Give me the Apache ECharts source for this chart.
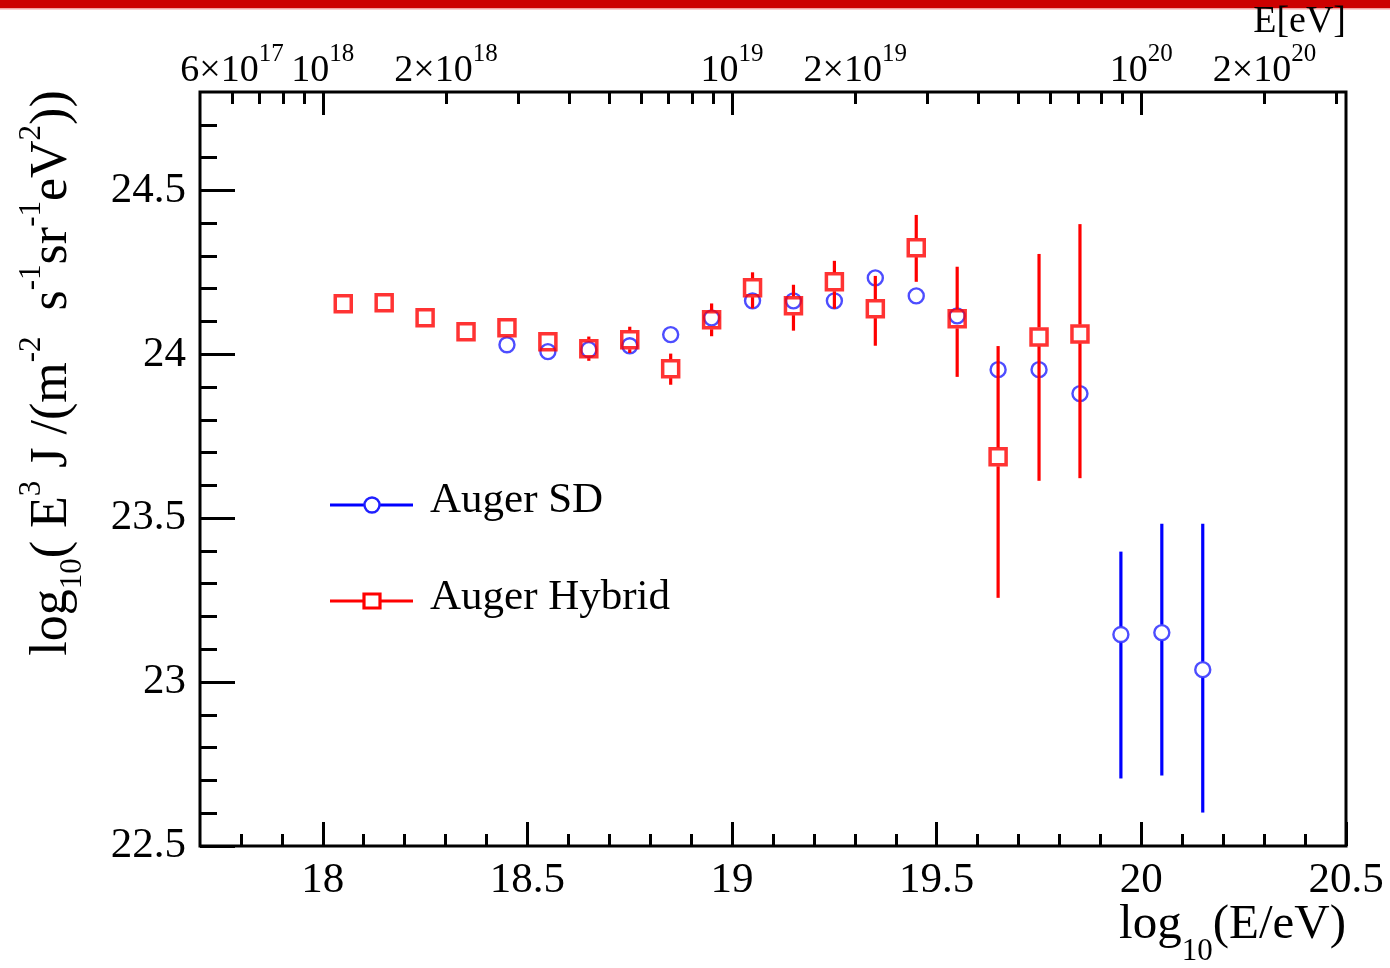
<!DOCTYPE html>
<html><head><meta charset="utf-8">
<script src="https://cdn.jsdelivr.net/npm/echarts@6/dist/echarts.min.js"></script>
<style>html,body{margin:0;padding:0;background:#fff}#c{width:1390px;height:968px}</style>
</head><body><div id="c"></div>
<script>
// ---------- data (log10(E/eV) bin centres, log10(E^3 J)) ----------
const sdX       = [18.45, 18.55, 18.65, 18.75, 18.85, 18.95, 19.05, 19.15, 19.25, 19.35, 19.45, 19.55, 19.65, 19.75, 19.85, 19.95, 20.05, 20.15];
const sdY       = [24.029, 24.008, 24.014, 24.026, 24.060, 24.111, 24.163, 24.163, 24.163, 24.233, 24.178, 24.117, 23.953, 23.953, 23.880, 23.145, 23.151, 23.038];
const sdErrUp   = [0.005, 0.005, 0.006, 0.007, 0.008, 0.009, 0.010, 0.011, 0.012, 0.014, 0.016, 0.018, 0.020, 0.020, 0.020, 0.253, 0.332, 0.445];
const sdErrDown = [0.005, 0.005, 0.006, 0.007, 0.008, 0.009, 0.010, 0.011, 0.012, 0.014, 0.016, 0.018, 0.020, 0.020, 0.020, 0.439, 0.436, 0.436];

const hybX       = [18.05, 18.15, 18.25, 18.35, 18.45, 18.55, 18.65, 18.75, 18.85, 18.95, 19.05, 19.15, 19.25, 19.35, 19.45, 19.55, 19.65, 19.75, 19.85];
const hybY       = [24.154, 24.157, 24.111, 24.069, 24.081, 24.038, 24.017, 24.044, 23.956, 24.105, 24.203, 24.148, 24.221, 24.139, 24.325, 24.108, 23.687, 24.053, 24.062];
const hybErrUp   = [0.010, 0.010, 0.012, 0.012, 0.015, 0.018, 0.037, 0.040, 0.046, 0.050, 0.047, 0.064, 0.064, 0.100, 0.100, 0.159, 0.338, 0.253, 0.335];
const hybErrDown = [0.010, 0.010, 0.012, 0.012, 0.015, 0.018, 0.037, 0.040, 0.049, 0.050, 0.063, 0.076, 0.082, 0.113, 0.104, 0.177, 0.430, 0.439, 0.440];

// ---------- axes / ticks ----------
const xMin = 17.7, xMax = 20.5;
const yMin = 22.5, yMax = 24.8;
const xTickLabels = [18, 18.5, 19, 19.5, 20, 20.5];
const yTickLabels = [22.5, 23, 23.5, 24, 24.5];
const xMinorTicks = [];
for (let i = 178; i <= 205; i++) { if (i % 5 !== 0) xMinorTicks.push(i / 10); }
const yMinorTicks = [];
for (let i = 226; i <= 247; i++) { if (i % 5 !== 0) yMinorTicks.push(i / 10); }

const topMajorEnergies = [1e18, 1e19, 1e20];
const topMinorEnergies = [6e17, 7e17, 8e17, 9e17,
  2e18, 3e18, 4e18, 5e18, 6e18, 7e18, 8e18, 9e18,
  2e19, 3e19, 4e19, 5e19, 6e19, 7e19, 8e19, 9e19,
  2e20, 3e20];
const topLabelEnergies = [6e17, 1e18, 2e18, 1e19, 2e19, 1e20, 2e20];
const topLabelMantissa = ['6×', '', '2×', '', '2×', '', '2×'];
const topLabelExponent = ['17', '18', '18', '19', '19', '20', '20'];

const lg = v => Math.log10(v);
const FONT = 'Liberation Serif';

function errBars(name, xs, ys, up, down, color, gap, z) {
  return {
    type: 'custom', name: name, z: z, silent: true, animation: false,
    encode: { x: 0, y: 1 },
    data: xs.map((x, i) => [x, ys[i], up[i], down[i]]),
    renderItem: function (params, api) {
      const x = api.value(0), y = api.value(1), u = api.value(2), d = api.value(3);
      const c = api.coord([x, y]), t = api.coord([x, y + u]), b = api.coord([x, y - d]);
      const style = { stroke: color, lineWidth: 3.2 };
      const ch = [];
      if (c[1] - gap > t[1]) ch.push({ type: 'line', shape: { x1: c[0], y1: t[1], x2: c[0], y2: c[1] - gap }, style: style });
      if (b[1] > c[1] + gap) ch.push({ type: 'line', shape: { x1: c[0], y1: c[1] + gap, x2: c[0], y2: b[1] }, style: style });
      return { type: 'group', children: ch };
    }
  };
}

const tickStyle = { color: '#000', width: 3 };
function baseAxis(extra) {
  return Object.assign({
    type: 'value', min: xMin, max: xMax,
    axisLine: { show: false, onZero: false },
    splitLine: { show: false },
  }, extra);
}

const chart = echarts.init(document.getElementById('c'), null, { renderer: 'canvas' });
chart.setOption({
  animation: false,
  backgroundColor: '#fff',
  grid: { left: 200, right: 44, top: 92, bottom: 122, show: true, borderColor: '#000', borderWidth: 3, containLabel: false, outerBoundsMode: 'none' },
  xAxis: [
    baseAxis({ position: 'bottom',
      axisTick: { inside: true, length: 24, customValues: xTickLabels, lineStyle: tickStyle },
      axisLabel: { customValues: xTickLabels, margin: 13, fontFamily: FONT, fontSize: 43, color: '#000',
        formatter: v => String(+(+v).toFixed(1)) } }),
    baseAxis({ position: 'bottom',
      axisTick: { inside: true, length: 12, customValues: xMinorTicks, lineStyle: tickStyle },
      axisLabel: { show: false, customValues: xMinorTicks } }),
    baseAxis({ position: 'top',
      axisTick: { inside: true, length: 23, customValues: topMajorEnergies.map(lg), lineStyle: tickStyle },
      axisLabel: { show: false, customValues: topMajorEnergies.map(lg) } }),
    baseAxis({ position: 'top',
      axisTick: { inside: true, length: 12, customValues: topMinorEnergies.map(lg), lineStyle: tickStyle },
      axisLabel: { customValues: topLabelEnergies.map(lg), margin: 2, color: '#000', interval: 0,
        formatter: function (v) {
          let best = 0, bd = 1e9;
          topLabelEnergies.forEach((e, i) => { const d = Math.abs(lg(e) - v); if (d < bd) { bd = d; best = i; } });
          return '{n|' + topLabelMantissa[best] + '10}{s|' + topLabelExponent[best] + '}';
        },
        rich: {
          n: { fontFamily: FONT, fontSize: 38, color: '#000', lineHeight: 48, verticalAlign: 'bottom' },
          s: { fontFamily: FONT, fontSize: 25, color: '#000', lineHeight: 48, verticalAlign: 'top' }
        } } })
  ],
  yAxis: [
    { type: 'value', min: yMin, max: yMax, position: 'left',
      axisLine: { show: false, onZero: false }, splitLine: { show: false },
      axisTick: { inside: true, length: 35, customValues: yTickLabels, lineStyle: tickStyle },
      axisLabel: { customValues: yTickLabels, margin: 14, fontFamily: FONT, fontSize: 43, color: '#000',
        formatter: v => String(+(+v).toFixed(1)) } },
    { type: 'value', min: yMin, max: yMax, position: 'left',
      axisLine: { show: false, onZero: false }, splitLine: { show: false },
      axisTick: { inside: true, length: 17, customValues: yMinorTicks, lineStyle: tickStyle },
      axisLabel: { show: false, customValues: yMinorTicks } }
  ],
  series: [
    errBars('SD errors', sdX, sdY, sdErrUp, sdErrDown, '#0000ff', 8, 2),
    { type: 'scatter', name: 'Auger SD', data: sdX.map((x, i) => [x, sdY[i]]), z: 3,
      symbol: 'circle', symbolSize: 15, silent: true,
      itemStyle: { color: 'rgba(0,0,0,0)', borderColor: '#2020ff', borderWidth: 2.4 } },
    errBars('Hybrid errors', hybX, hybY, hybErrUp, hybErrDown, '#ff0000', 9.5, 4),
    { type: 'scatter', name: 'Auger Hybrid', data: hybX.map((x, i) => [x, hybY[i]]), z: 5,
      symbol: 'rect', symbolSize: 16, silent: true,
      itemStyle: { color: 'rgba(0,0,0,0)', borderColor: '#ff0000', borderWidth: 3.5 } }
  ],
  graphic: [
    { type: 'rect', shape: { x: 0, y: 0, width: 1390, height: 8 }, style: { fill: '#cc0000' }, silent: true },
    { type: 'rect', shape: { x: 0, y: 8, width: 1390, height: 1.5 }, style: { fill: '#f2a0a0' }, silent: true },
    // legend
    { type: 'line', shape: { x1: 330, y1: 505, x2: 413, y2: 505 }, style: { stroke: '#0000ff', lineWidth: 3 }, silent: true },
    { type: 'circle', shape: { cx: 372, cy: 505, r: 7.5 }, style: { stroke: '#2020ff', lineWidth: 2.4, fill: '#fff' }, silent: true },
    { type: 'text', x: 430, y: 501, style: { text: 'Auger SD', font: '43px "Liberation Serif"', fill: '#000', align: 'left', verticalAlign: 'middle' }, silent: true },
    { type: 'line', shape: { x1: 330, y1: 601, x2: 413, y2: 601 }, style: { stroke: '#ff0000', lineWidth: 3 }, silent: true },
    { type: 'rect', shape: { x: 364, y: 594, width: 16, height: 14 }, style: { stroke: '#ff0000', lineWidth: 3.2, fill: '#fff' }, silent: true },
    { type: 'text', x: 430, y: 598, style: { text: 'Auger Hybrid', font: '43px "Liberation Serif"', fill: '#000', align: 'left', verticalAlign: 'middle' }, silent: true },
    // axis titles
    { type: 'text', x: 1346, y: 22, style: { text: 'E[eV]', font: '38px "Liberation Serif"', fill: '#000', align: 'right', verticalAlign: 'middle' }, silent: true },
    { type: 'text', x: 1346, y: 934, silent: true,
      style: { text: '{n|log}{b|10}{n|(E/eV)}', align: 'right', verticalAlign: 'middle',
        rich: { n: { fontFamily: FONT, fontSize: 49, fill: '#000', lineHeight: 66, verticalAlign: 'top' },
                b: { fontFamily: FONT, fontSize: 31, fill: '#000', lineHeight: 66, verticalAlign: 'bottom' } } } },
    { type: 'text', x: 52, y: 373, rotation: Math.PI / 2, silent: true,
      style: { text: '{n|log}{b|10}{n|( E}{t|3}{n| J /(m}{t|-2}{n|  s}{t|-1}{n|sr}{t|-1}{n|eV}{t|2}{n|))}',
        align: 'center', verticalAlign: 'middle',
        rich: { n: { fontFamily: FONT, fontSize: 52, fill: '#000', lineHeight: 72 },
                t: { fontFamily: FONT, fontSize: 31, fill: '#000', lineHeight: 72, verticalAlign: 'top' },
                b: { fontFamily: FONT, fontSize: 31, fill: '#000', lineHeight: 72, verticalAlign: 'bottom' } } } }
  ]
});
</script>
</body></html>
